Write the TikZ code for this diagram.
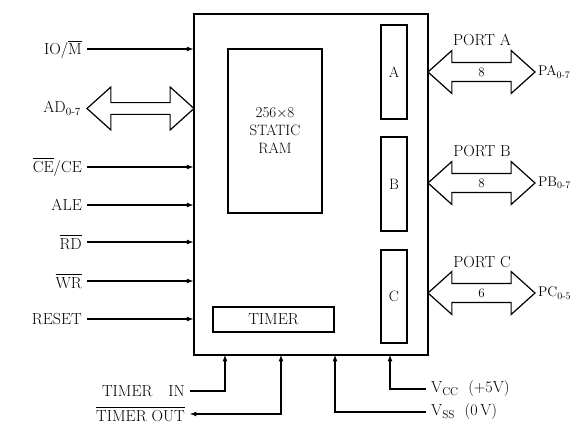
\documentclass[tikz,border=0pt]{standalone}
\usepackage{amsmath}
\usepackage{fontspec}
\usetikzlibrary{shapes.arrows, arrows, positioning}

\begin{document}
\begin{tikzpicture}[
    x=1pt, y=-1pt,
    box/.style={rectangle, draw, line width=1.2pt, inner sep=0pt, font=\fontsize{15}{18}\selectfont},
    lbl/.style={font=\fontsize{16}{18}\selectfont, inner sep=5pt},
    sig/.style={-latex, line width=1.2pt},
    bus/.style={double arrow, draw, line width=1.2pt, minimum height=107pt, minimum width=43pt,
        double arrow head extend=10.5pt, double arrow tip angle=84, inner xsep=0pt,
        font=\fontsize{13}{15}\selectfont}
]
    \useasboundingbox (0,0) rectangle (576,427);

    % Chip and its blocks
    \node[box, line width=1.5pt, minimum width=234pt, minimum height=341pt] (chip) at (311,184.5) {};
    \node[box, minimum width=94pt, minimum height=164pt, align=center] (ram) at (275,131) {256$\times$8\\STATIC\\RAM};
    \node[box, minimum width=121pt, minimum height=25pt, font=\fontsize{16}{18}\selectfont] (timer) at (273.5,319.5) {TIMER};
    \node[box, minimum width=26pt, minimum height=94pt] (porta) at (394,72) {A};
    \node[box, minimum width=26pt, minimum height=94pt] (portb) at (394,184) {B};
    \node[box, minimum width=26pt, minimum height=93pt] (portc) at (394,296.5) {C};

    % Control inputs
    \node[lbl, anchor=east] (io) at (87,49) {IO/$\overline{\mbox{M}}$};
    \node[lbl, anchor=east] (ce) at (87,167) {$\overline{\mbox{CE}}$/CE};
    \node[lbl, anchor=east] (ale) at (87,205) {ALE};
    \node[lbl, anchor=east] (rd) at (87,242) {$\overline{\mbox{RD}}$};
    \node[lbl, anchor=east] (wr) at (87,281) {$\overline{\mbox{WR}}$};
    \node[lbl, anchor=east] (reset) at (87,319) {RESET};
    \foreach \s in {io, ce, ale, rd, wr, reset}
        \draw[sig] (\s) -- (\s -| chip.west);

    % Address/data bus
    \node[bus] (ad) at (140.5,108.5) {};
    \node[lbl, left=0pt of ad] (adl) {AD$_{0\text{-}7}$};

    % Ports
    \node[bus] (pa) at (481.5,72) {8};
    \node[bus] (pb) at (481.5,183) {8};
    \node[bus] (pc) at (481.5,293) {6};
    \node[lbl] (pal) at (482,40) {PORT A};
    \node[lbl] (pbl) at (482,151) {PORT B};
    \node[lbl] (pcl) at (482,262) {PORT C};
    \node[lbl, right=-3pt of pa, font=\fontsize{14}{16}\selectfont] (pao) {PA$_{0\text{-}7}$};
    \node[lbl, right=-3pt of pb, font=\fontsize{14}{16}\selectfont] (pbo) {PB$_{0\text{-}7}$};
    \node[lbl, right=-3pt of pc, font=\fontsize{14}{16}\selectfont] (pco) {PC$_{0\text{-}5}$};

    % Timer and supply pins
    \coordinate (tin) at (225,355);
    \coordinate (tout) at (281,355);
    \coordinate (vssin) at (335,355);
    \coordinate (vccin) at (390,355);
    \node[lbl, anchor=east] (timin) at (190,391) {TIMER\quad IN};
    \node[lbl, anchor=east] (timout) at (190,414) {$\overline{\mbox{TIMER OUT}}$};
    \node[lbl, anchor=west] (vcc) at (426,389) {V$_{\mathrm{CC}}$\ \ (+5V)};
    \node[lbl, anchor=west] (vss) at (426,412) {V$_{\mathrm{SS}}$\ \ (0\,V)};
    \draw[sig] (timin) -| (tin);
    \draw[sig, latex-latex] (tout) |- (timout);
    \draw[sig] (vss) -| (vssin);
    \draw[sig] (vcc) -| (vccin);
\end{tikzpicture}
\end{document}
